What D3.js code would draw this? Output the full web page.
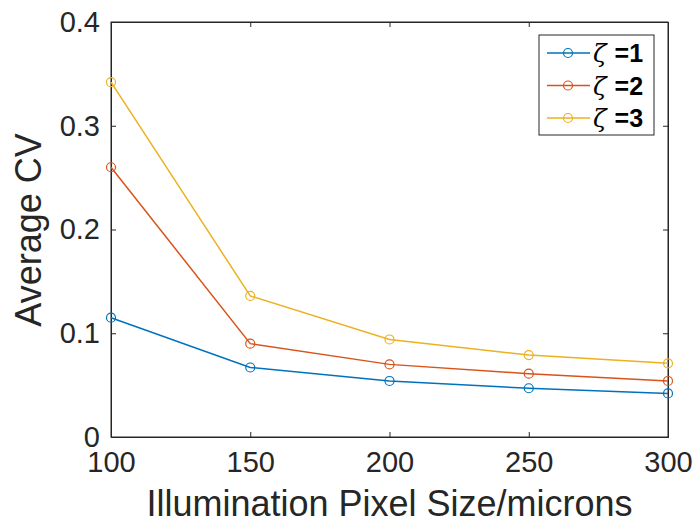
<!DOCTYPE html>
<html>
<head>
<meta charset="utf-8">
<script src="https://cdn.jsdelivr.net/npm/d3@7"></script>
<style>
  body { margin: 0; background: #fff; }
  svg { display: block; }
  .tick text { font-family: "Liberation Sans", Arial, Helvetica, sans-serif; fill: #262626; }
</style>
</head>
<body>
<div id="chart"></div>
<script>
// values
var xValues = [100, 150, 200, 250, 300];
var zeta1 = [0.115, 0.067, 0.054, 0.047, 0.042];
var zeta2 = [0.260, 0.090, 0.070, 0.061, 0.054];
var zeta3 = [0.342, 0.136, 0.094, 0.079, 0.071];
var seriesNames = ["1", "2", "3"];
var xTicks = [100, 150, 200, 250, 300];
var yTicks = [0, 0.1, 0.2, 0.3, 0.4];

var colors = ["#0072BD", "#D95319", "#EDB120"];
var allSeries = [zeta1, zeta2, zeta3];

var width = 698, height = 525;
var plotLeft = 111, plotRight = 668, plotTop = 22, plotBottom = 437;

var svg = d3.select("#chart").append("svg")
    .attr("width", width)
    .attr("height", height);

var x = d3.scaleLinear().domain([100, 300]).range([plotLeft, plotRight]);
var y = d3.scaleLinear().domain([0, 0.4]).range([plotBottom, plotTop]);

var axisColor = "#262626";

// box
svg.append("rect")
    .attr("x", plotLeft).attr("y", plotTop)
    .attr("width", plotRight - plotLeft).attr("height", plotBottom - plotTop)
    .attr("fill", "none")
    .attr("stroke", axisColor)
    .attr("stroke-width", 1);

function fmtY(d) { return d === 0 ? "0" : d3.format(".1f")(d); }

// bottom axis
var gx = svg.append("g")
    .attr("transform", "translate(0," + plotBottom + ")")
    .call(d3.axisBottom(x).tickValues(xTicks).tickSize(-5).tickPadding(14).tickFormat(d3.format("d")));
gx.selectAll("text").style("font-size", "29px");

// top ticks
svg.append("g")
    .attr("transform", "translate(0," + plotTop + ")")
    .call(d3.axisTop(x).tickValues(xTicks).tickSize(-5).tickFormat(""));

// left axis
var gy = svg.append("g")
    .attr("transform", "translate(" + plotLeft + ",0)")
    .call(d3.axisLeft(y).tickValues(yTicks).tickSize(-5).tickPadding(11).tickFormat(fmtY));
gy.selectAll("text").style("font-size", "29px");

// right ticks
svg.append("g")
    .attr("transform", "translate(" + plotRight + ",0)")
    .call(d3.axisRight(y).tickValues(yTicks).tickSize(-5).tickFormat(""));

svg.selectAll(".domain").attr("stroke", axisColor);
svg.selectAll(".tick line").attr("stroke", axisColor);

// lines
var line = d3.line()
    .x(function(d, i) { return x(xValues[i]); })
    .y(function(d) { return y(d); });

allSeries.forEach(function(s, k) {
    svg.append("path")
        .datum(s)
        .attr("d", line)
        .attr("fill", "none")
        .attr("stroke", colors[k])
        .attr("stroke-width", 1.5);
    svg.append("g").selectAll("circle")
        .data(s)
        .enter().append("circle")
        .attr("cx", function(d, i) { return x(xValues[i]); })
        .attr("cy", function(d) { return y(d); })
        .attr("r", 4.5)
        .attr("fill", "none")
        .attr("stroke", colors[k])
        .attr("stroke-width", 1.2);
});

// axis labels
svg.append("text")
    .attr("x", (plotLeft + plotRight) / 2)
    .attr("y", 516)
    .attr("text-anchor", "middle")
    .style("font-family", "Liberation Sans, Arial, sans-serif")
    .style("font-size", "36px")
    .attr("fill", axisColor)
    .text("Illumination Pixel Size/microns");

svg.append("text")
    .attr("transform", "translate(41," + 230 + ") rotate(-90)")
    .attr("text-anchor", "middle")
    .style("font-family", "Liberation Sans, Arial, sans-serif")
    .style("font-size", "36px")
    .attr("fill", axisColor)
    .text("Average CV");

// legend
var legend = svg.append("g");
legend.append("rect")
    .attr("x", 539).attr("y", 35)
    .attr("width", 115).attr("height", 100)
    .attr("fill", "#fff")
    .attr("stroke", axisColor)
    .attr("stroke-width", 1);

seriesNames.forEach(function(name, k) {
    var ly = 53 + k * 32.5;
    legend.append("line")
        .attr("x1", 547).attr("x2", 590)
        .attr("y1", ly).attr("y2", ly)
        .attr("stroke", colors[k])
        .attr("stroke-width", 1.5);
    legend.append("circle")
        .attr("cx", 568).attr("cy", ly).attr("r", 4.5)
        .attr("fill", "none")
        .attr("stroke", colors[k])
        .attr("stroke-width", 1.2);
    var t = legend.append("text")
        .attr("x", 593).attr("y", ly + 9)
        .attr("fill", "#000");
    t.append("tspan")
        .style("font-family", "DejaVu Serif, serif")
        .style("font-style", "italic")
        .style("font-size", "25px")
        .text("ζ");
    t.append("tspan")
        .attr("dx", 8)
        .style("font-family", "Liberation Sans, Arial, sans-serif")
        .style("font-weight", "bold")
        .style("font-size", "25px")
        .text("=" + name);
});
</script>
</body>
</html>
